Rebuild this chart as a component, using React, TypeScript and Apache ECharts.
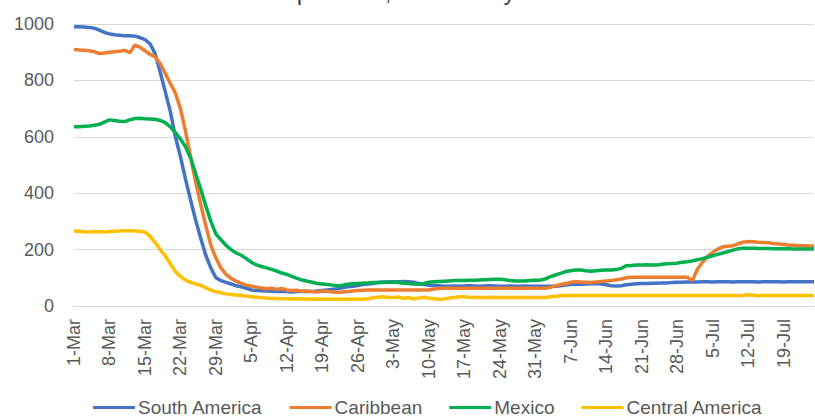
import React, { useEffect, useRef } from "react";
import * as echarts from "echarts";

const seriesNames = ["South America", "Caribbean", "Mexico", "Central America"];
const seriesColors = ["#4472C4", "#ED7D31", "#00B050", "#FFC000"];

// daily values, 1-Mar .. 25-Jul 2020
const southAmerica = [
  990, 990, 989, 988, 985, 978, 970, 965, 962, 960, 958, 958, 957, 952, 945, 930, 895, 830, 760, 690,
  600, 530, 450, 376, 305, 240, 180, 135, 100, 90, 84, 78, 72, 68, 63, 57, 55, 54, 53, 52,
  51, 52, 51, 50, 51, 52, 51, 51, 53, 55, 57, 59, 62, 65, 68, 70, 73, 76, 78, 80,
  83, 85, 85, 86, 86, 87, 86, 84, 80, 76, 74, 73, 72, 70, 70, 71, 70, 71, 72, 71,
  70, 71, 72, 71, 70, 70, 71, 70, 70, 71, 70, 70, 70, 70, 70, 70, 72, 74, 76, 77,
  77, 78, 79, 80, 78, 75, 72, 71, 72, 75, 77, 79, 80, 80, 81, 81, 82, 82, 83, 84,
  84, 85, 85, 85, 86, 86, 85, 86, 86, 86, 85, 86, 86, 86, 86, 85, 86, 86, 86, 86,
  85, 86, 86, 86, 86, 86, 86,
];
const caribbean = [
  910, 908, 907, 905, 902, 895, 897, 900, 902, 903, 907, 898, 925, 918, 905, 892, 884, 860, 825, 790,
  755, 700, 620, 530, 440, 360, 285, 215, 170, 135, 112, 98, 88, 80, 74, 70, 67, 64, 61, 63,
  59, 62, 57, 55, 56, 52, 53, 51, 50, 53, 52, 50, 49, 50, 51, 53, 55, 56, 57, 57,
  57, 57, 57, 57, 57, 57, 57, 57, 57, 57, 57, 60, 62, 63, 63, 63, 63, 63, 63, 63,
  63, 63, 63, 63, 63, 63, 63, 63, 63, 63, 63, 63, 63, 63, 66, 72, 76, 80, 84, 86,
  85, 84, 83, 85, 87, 89, 90, 93, 96, 100, 102, 102, 102, 102, 102, 102, 102, 102, 102, 102,
  102, 102, 90, 130, 155, 175, 190, 202, 210, 212, 214, 220, 226, 229, 228, 226, 225, 224, 222, 220,
  218, 216, 215, 214, 214, 213, 213,
];
const mexico = [
  636, 636, 637, 638, 641, 644, 652, 660, 658, 655, 654, 660, 665, 666, 664, 663, 662, 658, 650, 635,
  615, 592, 565, 525, 470, 415, 355, 300, 255, 235, 215, 200, 188, 180, 168, 155, 146, 140, 135, 130,
  124, 117, 112, 105, 98, 92, 88, 84, 80, 78, 76, 74, 72, 74, 77, 79, 80, 81, 82, 83,
  83, 83, 84, 84, 83, 81, 80, 78, 77, 80, 84, 86, 87, 88, 89, 90, 90, 90, 91, 91,
  92, 93, 94, 95, 95, 93, 90, 89, 89, 89, 90, 91, 92, 96, 104, 110, 116, 122, 125, 128,
  128, 125, 123, 125, 127, 128, 128, 129, 134, 143, 144, 145, 145, 146, 145, 145, 148, 150, 151, 152,
  155, 157, 160, 164, 168, 173, 178, 183, 188, 193, 198, 203, 205, 205, 205, 204, 204, 204, 203, 203,
  203, 203, 202, 202, 202, 202, 202,
];
const centralAmerica = [
  266, 265, 263, 262, 264, 263, 262, 264, 265, 266, 267, 267, 266, 265, 262, 248, 225, 200, 178, 150,
  122, 105, 92, 84, 78, 73, 65, 56, 51, 47, 43, 41, 39, 37, 35, 33, 31, 29, 28, 27,
  27, 26, 26, 25, 26, 25, 25, 24, 25, 24, 24, 25, 24, 24, 24, 25, 24, 24, 26, 29,
  31, 33, 30, 30, 32, 27, 30, 26, 28, 31, 28, 26, 24, 25, 28, 30, 33, 33, 31, 30,
  30, 30, 30, 31, 30, 30, 30, 30, 31, 30, 30, 30, 30, 30, 33, 35, 36, 37, 37, 37,
  37, 37, 37, 37, 37, 37, 37, 37, 37, 37, 37, 37, 37, 37, 37, 37, 37, 37, 37, 37,
  37, 37, 37, 37, 37, 37, 37, 37, 37, 37, 37, 37, 37, 40, 38, 36, 37, 37, 37, 37,
  37, 37, 37, 37, 37, 37, 37,
];
const seriesData = [southAmerica, caribbean, mexico, centralAmerica];

const monthNames = ["Jan", "Feb", "Mar", "Apr", "May", "Jun", "Jul", "Aug"];
const startDate = new Date(2020, 2, 1);
const categories: string[] = southAmerica.map((_, i) => {
  const d = new Date(startDate.getTime());
  d.setDate(d.getDate() + i);
  return `${d.getDate()}-${monthNames[d.getMonth()]}`;
});

const titleText = "Departures, March-July 2020";
const FONT = "Liberation Sans";

export default function App() {
  const ref = useRef<HTMLDivElement>(null);
  useEffect(() => {
    if (!ref.current) return;
    const chart = echarts.init(ref.current, undefined, { renderer: "svg" });
    chart.setOption({
      animation: false,
      backgroundColor: "#ffffff",
      textStyle: { fontFamily: FONT },
      title: {
        text: titleText,
        left: 266,
        top: -21,
        padding: 0,
        textStyle: { fontSize: 24, color: "#404040", fontWeight: "normal", fontFamily: FONT },
      },
      legend: {
        data: seriesNames,
        left: 93,
        top: 398,
        padding: 0,
        icon: "rect",
        itemWidth: 42,
        itemHeight: 3,
        itemGap: 27,
        textStyle: { fontSize: 19, color: "#595959", fontFamily: FONT, padding: [0, 0, 0, -2] },
      },
      grid: { left: 74, right: 1, top: 24, bottom: 111, containLabel: false },
      xAxis: {
        type: "category",
        data: categories,
        boundaryGap: false,
        axisLine: { lineStyle: { color: "#D9D9D9", width: 1 } },
        axisTick: { show: false },
        axisLabel: {
          interval: 6,
          rotate: 90,
          fontSize: 18,
          color: "#595959",
          margin: 13,
          fontFamily: FONT,
        },
        splitLine: { show: false },
      },
      yAxis: {
        type: "value",
        min: 0,
        max: 1000,
        interval: 200,
        axisLine: { show: false },
        axisTick: { show: false },
        axisLabel: {
          fontSize: 18,
          color: "#595959",
          margin: 20,
          fontFamily: FONT,
          formatter: (v: number) => String(v),
        },
        splitLine: { lineStyle: { color: "#D9D9D9", width: 1 } },
      },
      series: seriesNames.map((name, k) => ({
        name,
        type: "line",
        data: seriesData[k],
        showSymbol: false,
        symbol: "none",
        smooth: false,
        lineStyle: { color: seriesColors[k], width: 3.5 },
        itemStyle: { color: seriesColors[k] },
      })),
    });
    return () => chart.dispose();
  }, []);
  return (
    <div
      ref={ref}
      style={{ position: "fixed", left: 0, top: 0, width: 815, height: 417, background: "#fff" }}
    />
  );
}
